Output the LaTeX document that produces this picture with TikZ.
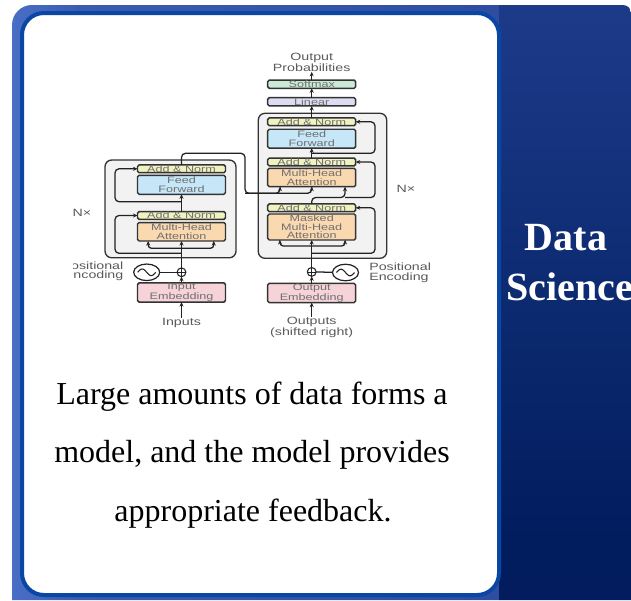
\documentclass[tikz,border=0pt]{standalone}
\usepackage{fontspec}
\setmainfont{Liberation Serif}
\newfontfamily\diagfont[FakeStretch=1.35]{Liberation Sans}
\usetikzlibrary{shapes.geometric,arrows.meta}

% slide colours
\definecolor{bgA}{HTML}{6F9CF2}
\definecolor{bgB}{HTML}{5F8AE6}
\definecolor{bgM}{HTML}{3A5CB0}
\definecolor{bgC}{HTML}{2C4D9F}
\definecolor{bgD}{HTML}{274898}
\definecolor{pnA}{HTML}{00185A}
\definecolor{pnB}{HTML}{021D5E}
\definecolor{pnC}{HTML}{0C2A70}
\definecolor{pnD}{HTML}{1A3785}
\definecolor{cardEdge}{HTML}{0A47A5}
% transformer colours
\definecolor{blkEdge}{HTML}{333333}
\definecolor{blkText}{HTML}{707070}
\definecolor{lblText}{HTML}{5A5A5A}
\definecolor{wireCol}{HTML}{222222}
\definecolor{stackFill}{HTML}{F2F2F2}
\definecolor{anFill}{HTML}{F0F3C0}
\definecolor{ffFill}{HTML}{C5E7F7}
\definecolor{attFill}{HTML}{FAD9B0}
\definecolor{embFill}{HTML}{F5D3D8}
\definecolor{smFill}{HTML}{C9EAD4}
\definecolor{linFill}{HTML}{DCDCF3}

\pgfdeclarehorizontalshading{slidebg}{100bp}{color(0bp)=(bgA); color(14bp)=(bgB); color(32bp)=(bgM); color(78bp)=(bgC); color(100bp)=(bgD)}
\pgfdeclareverticalshading{panelbg}{100bp}{color(0bp)=(pnA); color(30bp)=(pnB); color(50bp)=(pnC); color(70bp)=(pnD); color(100bp)=(bgC)}

\newcommand\blkfont{\diagfont\fontsize{7}{6.3}\selectfont}
\newcommand\lblfont{\diagfont\fontsize{7.9}{6.8}\selectfont}

\tikzset{
  every node/.style={inner sep=0pt, outer sep=0pt},
  blk/.style={draw=blkEdge, line width=1.1pt, rounded corners=1.2pt, minimum width=66pt,
    font=\blkfont, text=blkText, align=center},
  anorm/.style={blk, fill=anFill, minimum height=5.8pt},
  ffwd/.style={blk, fill=ffFill, minimum height=14.2pt},
  attn/.style={blk, fill=attFill, minimum height=13.8pt},
  embed/.style={blk, fill=embFill, minimum height=14.4pt},
  stack/.style={draw=blkEdge, line width=1pt, fill=stackFill, rounded corners=5pt},
  wire/.style={draw=wireCol, line width=0.95pt},
  feed/.style={wire, -{Stealth[length=3.4pt,width=3pt]}},
  lbl/.style={font=\lblfont, text=lblText, align=center},
  addop/.style={circle, draw=wireCol, line width=0.8pt, fill=white, minimum size=6.6pt,
    path picture={\draw[wireCol, line width=0.6pt]
      (path picture bounding box.north) -- (path picture bounding box.south)
      (path picture bounding box.west) -- (path picture bounding box.east);}},
  sinus/.style={ellipse, draw=wireCol, line width=0.9pt, fill=white,
    minimum width=19.5pt, minimum height=12.4pt},
}

\begin{document}
\begin{tikzpicture}[x=0.75pt, y=-0.75pt]
\useasboundingbox (0,0) rectangle (631,600);

% slide background: light left frame and dark right panel
\shade[shading=slidebg] (12,600) [rounded corners=15pt] -- (12,5) [sharp corners] -- (499,5) -- (499,600) -- cycle;
\shade[shading=panelbg] (499,5) [rounded corners=6pt] -- (631,5) [sharp corners] -- (631,600) -- (499,600) -- cycle;

% white card
\draw[cardEdge, line width=3pt, fill=white, rounded corners=16.5pt] (22,13) rectangle (499,595);

\node[font=\bfseries\fontsize{30}{36}\selectfont, text=white, anchor=base] (dsTop) at (566,250) {Data};
\node[font=\bfseries\fontsize{30}{36}\selectfont, text=white, anchor=base] (dsBot) at (570,300.7) {Science};

% caption
\node[font=\fontsize{24}{24}\selectfont, anchor=base] (cap1) at (252,404) {Large amounts of data forms a};
\node[font=\fontsize{24}{24}\selectfont, anchor=base] (cap2) at (252,462.5) {model, and the model provides};
\node[font=\fontsize{24}{24}\selectfont, anchor=base] (cap3) at (253,521) {appropriate feedback.};

\begin{scope}
\clip (73,40) rectangle (470,360);

% ---------- encoder ----------
\node[stack, minimum width=98.25pt, minimum height=73.3pt] (encStack) at (170.5,208.9) {};
\node[anorm] (encAN1) at (181.5,168.8) {Add \& Norm};
\node[ffwd]  (encFF)  at (181.5,184.8) {Feed\\Forward};
\node[anorm] (encAN2) at (181.5,215.5) {Add \& Norm};
\node[attn]  (encMHA) at (181.5,231.8) {Multi-Head\\Attention};
\node[embed] (encEmb) at (181.5,292.5) {Input\\Embedding};
\node[addop] (encAdd) at (181.5,272.3) {};
\node[sinus] (encSin) at (146.7,272.3) {};
\node[lbl] (inputs) at (181.5,322.5) {Inputs};
\node[lbl, align=right, anchor=east] (encPE) at (123.3,271.2) {Positional\\Encoding};
\node[lbl] (encN) at (82,212.7) {N×};

% ---------- decoder ----------
\node[stack, minimum width=96.3pt, minimum height=108.75pt] (decStack) at (322.5,185.8) {};
\node[anorm] (decAN1) at (311.7,121.8) {Add \& Norm};
\node[ffwd]  (decFF)  at (311.7,138.7) {Feed\\Forward};
\node[anorm] (decAN2) at (311.7,162) {Add \& Norm};
\node[attn]  (decMHA) at (311.7,177.5) {Multi-Head\\Attention};
\node[anorm] (decAN3) at (311.7,207.8) {Add \& Norm};
\node[attn, minimum height=19.5pt] (decMMHA) at (311.7,227) {Masked\\Multi-Head\\Attention};
\node[embed] (decEmb) at (311.7,293) {Output\\Embedding};
\node[addop] (decAdd) at (311.7,271.9) {};
\node[sinus] (decSin) at (345.5,272.5) {};
\node[lbl] (outputs) at (311.7,327.5) {Outputs\\(shifted right)};
\node[lbl, align=left, anchor=west] (decPE) at (369.3,272.8) {Positional\\Encoding};
\node[lbl] (decN) at (406,189) {N×};
\node[blk, fill=linFill, minimum height=6.2pt] (linear) at (311.7,101.8) {Linear};
\node[blk, fill=smFill, minimum height=6.2pt] (softmax) at (311.7,84.2) {Softmax};
\node[lbl] (outProb) at (311.7,62.5) {Output\\Probabilities};

% positional encoding waves
\begin{scope}[shift={(encSin.center)}]
  \draw[wire, line width=0.8pt] plot[smooth, domain=-1:1, samples=25] ({9*\x},{3.3*sin(180*\x)});
\end{scope}
\begin{scope}[shift={(decSin.center)}]
  \draw[wire, line width=0.8pt] plot[smooth, domain=-1:1, samples=25] ({9*\x},{3.3*sin(180*\x)});
\end{scope}

% helper coordinates for wire bends
\coordinate (eL) at (115,0);
\coordinate (dR) at (375,0);
\coordinate (eSplit) at (181.5,248.3);
\coordinate (eRes2) at (181.5,253.3);
\coordinate (eRes1) at (181.5,201.7);
\coordinate (kvTurn) at (245,153.3);
\coordinate (kvRow) at (245,193.3);
\coordinate (dSplit) at (311.7,246);
\coordinate (dRes3) at (311.7,253.3);
\coordinate (qRow) at (345,197.5);
\coordinate (dRes1) at (311.7,153.3);

% encoder wiring
\draw[feed] (inputs) -- (encEmb);
\draw[feed] (encEmb) -- (encAdd);
\draw[wire] (encSin) -- (encAdd);
\draw[feed] (encAdd) -- (encMHA);
\draw[feed, rounded corners=2.5pt] (eSplit) -| ([xshift=-25pt]encMHA.south);
\draw[feed, rounded corners=2.5pt] (eSplit) -| ([xshift=24.2pt]encMHA.south);
\draw[feed, rounded corners=3pt] (eRes2) -| (eL |- encAN2.west) -- (encAN2.west);
\draw[feed] (encAN2) -- (encFF);
\draw[feed, rounded corners=3pt] (eRes1) -| (eL |- encAN1.west) -- (encAN1.west);
\draw[feed, rounded corners=3pt] (encAN1.north) |- (kvTurn) -- (kvRow) -| ([xshift=-23.8pt]decMHA.south);
\draw[feed, rounded corners=3pt] (kvRow) -| (decMHA.south);

% decoder wiring
\draw[feed] (outputs) -- (decEmb);
\draw[feed] (decEmb) -- (decAdd);
\draw[wire] (decSin) -- (decAdd);
\draw[feed] (decAdd) -- (decMMHA);
\draw[feed, rounded corners=2.5pt] (dSplit) -| ([xshift=-23.8pt]decMMHA.south);
\draw[feed, rounded corners=2.5pt] (dSplit) -| ([xshift=25pt]decMMHA.south);
\draw[feed, rounded corners=3pt] (dRes3) -| (dR |- decAN3.east) -- (decAN3.east);
\draw[feed, rounded corners=3pt] (decAN3.north) |- (qRow) -- ([xshift=25pt]decMHA.south);
\draw[feed, rounded corners=3pt] (qRow) -| (dR |- decAN2.east) -- (decAN2.east);
\draw[feed] (decAN2) -- (decFF);
\draw[feed, rounded corners=3pt] (dRes1) -| (dR |- decAN1.east) -- (decAN1.east);
\draw[feed] (decAN1) -- (linear);
\draw[feed] (linear) -- (softmax);
\draw[feed] (softmax) -- (outProb);
\end{scope}
\end{tikzpicture}
\end{document}
